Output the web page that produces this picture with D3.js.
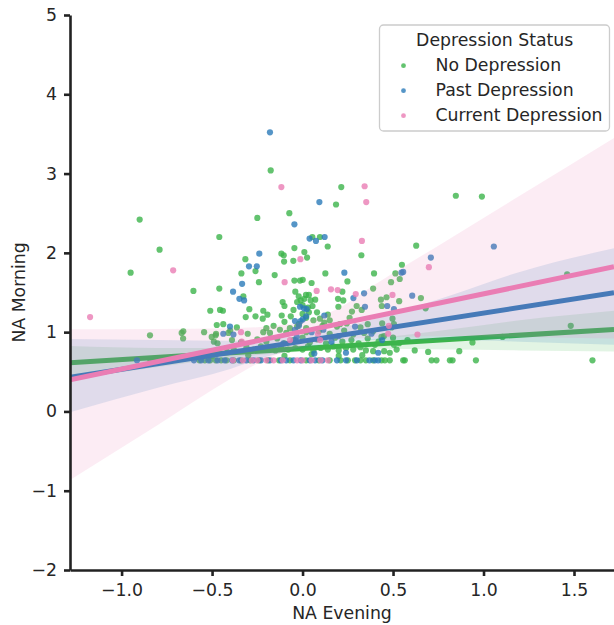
<!doctype html>
<html>
<head>
    <meta charset="utf-8">
    <title>NA Morning vs NA Evening</title>
    <script src="https://d3js.org/d3.v7.min.js"></script>
    <style type="text/css">
        html, body { margin: 0; padding: 0; background: #fff; }
        svg { display: block; font-family: "DejaVu Sans", sans-serif; }
        .axis text { font-size: 17.3px; fill: #262626; }
        .axis path, .axis line { stroke: #222222; stroke-width: 2.6; }
    </style>
</head>
<body>
<svg id="chart" width="614" height="625"></svg>
<script type="text/javascript">
    // groups and colours
    var groups = ["No Depression", "Past Depression", "Current Depression"];
    var palette = ["#3cb44b", "#2a7ab9", "#ea7db4"];

    var xTicks = [-1.0, -0.5, 0.0, 0.5, 1.0, 1.5];
    var yTicks = [-2, -1, 0, 1, 2, 3, 4, 5];

    // scatter [NA Evening, NA Morning]
    var noDep = [
        [-0.176,3.04],[0.214,2.83],[0.185,2.61],[-0.073,2.50],[-0.25,2.44],[-0.90,2.42],[-0.46,2.20],
        [0.054,2.20],[0.096,2.20],[0.139,2.08],[0.628,2.09],[-0.79,2.04],[-0.045,2.06],[0.01,2.01],
        [-0.117,1.99],[-0.104,1.97],[0.025,1.94],[-0.051,1.90],[-0.102,1.89],[0.325,1.97],[-0.316,1.92],
        [0.549,1.85],[-0.26,1.77],[-0.338,1.74],[-0.95,1.75],[-0.154,1.72],[0.126,1.74],[0.395,1.74],
        [0.513,1.74],[0.537,1.67],[0.489,1.63],[-0.241,1.63],[-0.014,1.65],[0.001,1.66],[-0.045,1.65],
        [0.05,1.62],[0.248,1.64],[-0.603,1.52],[-0.46,1.55],[-0.04,1.51],[0.019,1.47],[0.22,1.51],
        [0.39,1.55],[-0.327,1.45],[0.433,1.41],[0.464,1.44],[0.534,1.39],[0.654,1.43],[0.438,1.33],
        [0.68,1.30],[0.847,2.72],[0.991,2.71],[1.462,1.73],[1.482,1.08],[1.105,0.94],[0.939,0.87],
        [0.866,0.76],[0.694,0.75],
        [0.196,1.42],[0.225,1.40],[0.198,1.32],[0.273,1.26],[0.299,1.33],[0.327,1.28],
        [-0.021,1.45],[-0.01,1.40],[0.01,1.42],[0.035,1.47],[0.045,1.40],[0.07,1.41],[-0.03,1.38],
        [0.0,1.34],[0.03,1.31],[0.055,1.33],[-0.05,1.28],[0.035,1.25],[0.0,1.23],[-0.1,1.33],[-0.11,1.38],
        [-0.51,1.27],[-0.456,1.28],[-0.44,1.27],[-0.294,1.29],[-0.217,1.27],[-0.194,1.22],[-0.314,1.19],
        [-0.26,1.20],[-0.115,1.21],[-0.065,1.20],[0.096,1.17],[0.14,1.22],
        [0.02,1.18],[0.06,1.15],[-0.02,1.10],[0.08,1.25],[-0.07,1.05],[0.15,1.15],[0.26,1.18],
        [-0.16,1.08],[0.45,0.95],[0.40,0.84],[-0.20,1.05],[0.50,0.93],
        [-0.474,1.09],[-0.438,1.10],[-0.363,1.06],[-0.1,1.13],[-0.22,1.17],[0.11,1.08],[0.19,1.07],
        [0.207,1.10],[0.244,1.11],[0.32,1.06],[0.36,1.10],[-0.03,1.07],[0.02,1.05],[0.12,1.12],
        [0.505,1.10],[0.44,1.11],[0.492,1.06],[0.497,1.17],
        [-0.659,1.01],[-0.544,1.00],[-0.48,0.96],[-0.40,1.02],[-0.303,0.98],[-0.217,1.00],[-0.18,0.99],
        [-0.125,1.03],[-0.09,0.99],[0.02,1.00],[0.09,1.01],[0.15,0.98],[0.23,1.02],[0.28,0.97],
        [0.34,0.99],[0.39,1.01],[-0.668,0.99],[-0.843,0.96],[-0.502,0.94],[-0.478,0.98],[-0.41,0.99],
        [-0.66,0.92],[-0.49,0.88],[-0.47,0.86],[-0.39,0.90],[-0.34,0.87],[-0.25,0.91],[-0.20,0.88],
        [-0.14,0.92],[-0.10,0.86],[-0.05,0.90],[0.0,0.93],[0.04,0.87],[0.08,0.91],[0.13,0.86],
        [0.18,0.93],[0.22,0.88],[0.27,0.90],[0.31,0.86],[0.36,0.92],[0.42,0.88],[0.436,0.94],
        [0.505,0.84],[0.534,0.86],[0.58,0.90],
        [-0.42,0.80],[-0.38,0.78],[-0.31,0.81],[-0.27,0.78],[-0.23,0.82],[-0.18,0.79],[-0.15,0.77],
        [-0.12,0.81],[-0.08,0.78],[-0.04,0.80],[0.0,0.78],[0.03,0.82],[0.06,0.77],[0.10,0.80],
        [0.14,0.78],[0.17,0.82],[0.20,0.77],[0.24,0.80],[0.28,0.78],[0.32,0.81],[0.35,0.77],
        [0.39,0.76],[0.451,0.76],[0.482,0.74],[0.52,0.78],[0.62,0.77],
        [-0.50,0.70],[-0.30,0.71],[-0.10,0.70],[0.05,0.72],[0.20,0.70],[0.33,0.71],
        [-0.84,0.645],[-0.57,0.645],[-0.54,0.645],[-0.51,0.645],[-0.48,0.645],[-0.45,0.645],[-0.42,0.645],
        [-0.38,0.645],[-0.34,0.645],[-0.29,0.645],[-0.24,0.645],[-0.19,0.645],[-0.13,0.645],[-0.07,0.645],
        [0.02,0.645],[0.09,0.645],[0.15,0.645],[0.21,0.645],[0.25,0.645],[0.29,0.645],[0.32,0.645],
        [0.35,0.645],[0.39,0.645],[0.436,0.645],[0.455,0.645],[0.482,0.645],[0.556,0.645],[0.565,0.645],
        [0.713,0.645],[0.740,0.645],[0.814,0.645],[0.829,0.645],[0.958,0.645],[1.602,0.645]
    ];
    var pastDep = [
        [-0.18,3.52],[0.093,2.64],[-0.045,2.36],[0.039,2.18],[0.074,2.15],[0.122,2.20],[-0.239,1.99],
        [-0.296,1.83],[-0.253,1.83],[0.231,1.75],[-0.334,1.61],[-0.384,1.51],[0.34,1.49],[0.281,1.43],
        [-0.349,1.42],[-0.323,1.40],[0.709,1.94],[0.547,1.75],[0.556,1.76],[1.057,2.08],[0.606,1.46],
        [0.468,1.33],[0.505,1.29],[0.345,1.32],[0.12,1.21],[-0.014,1.32],[0.008,1.30],[0.023,1.29],
        [-0.042,1.14],[-0.01,1.14],[0.001,1.16],[-0.042,1.03],[-0.032,0.94],[-0.106,0.86],[0.115,1.03],
        [0.29,1.07],[-0.401,1.07],[-0.438,0.98],[-0.382,0.97],[0.381,0.98],[0.418,0.74],[0.24,0.74],
        [0.065,0.73],[-0.04,0.90],[0.16,0.88],
        [0.02,1.20],[-0.02,1.08],[0.05,1.00],[0.20,0.95],[0.44,0.90],
        [-0.915,0.645],[-0.60,0.645],[-0.56,0.645],[-0.52,0.645],[-0.47,0.645],[-0.43,0.645],[-0.39,0.645],
        [-0.35,0.645],[-0.31,0.645],[-0.27,0.645],[-0.23,0.645],[-0.18,0.645],[-0.12,0.645],[-0.09,0.645],
        [-0.05,0.645],[-0.01,0.645],[0.04,0.645],[0.07,0.645],[0.11,0.645],[0.19,0.645],[0.24,0.645],
        [0.30,0.645],[0.37,0.645],[0.40,0.645],[0.418,0.645]
    ];
    var currDep = [
        [-0.117,2.83],[0.343,2.84],[0.352,2.64],[0.328,2.15],[-0.012,1.92],[-0.715,1.78],[0.698,1.82],
        [-0.099,1.63],[0.078,1.52],[0.157,1.54],[0.194,1.53],[0.294,1.48],[0.497,1.47],[-1.174,1.19],
        [0.477,1.08],[0.473,0.98],[0.635,0.97],[-0.34,1.00],[0.085,0.98],[-0.069,0.90],[0.097,0.90],
        [-0.336,0.88],
        [-0.385,0.645],[-0.33,0.645],[-0.28,0.645],[-0.25,0.645],[-0.20,0.645],[-0.16,0.645],
        [-0.11,0.645],[-0.03,0.645],[0.0,0.645],[0.05,0.645],[0.10,0.645],[0.14,0.645]
    ];

    // fitted lines
    var fitIntercept = [0.794, 0.886, 1.009];
    var fitSlope = [0.140, 0.355, 0.474];

    // confidence bands, sampled along NA Evening
    var bandX = [-1.285, -0.8, -0.4, -0.2, 0, 0.2, 0.4, 0.8, 1.2, 1.721];
    var loNoDep   = [0.40, 0.56, 0.68, 0.72, 0.755, 0.78, 0.79, 0.78, 0.77, 0.755];
    var hiNoDep   = [0.825, 0.80, 0.80, 0.81, 0.83, 0.87, 0.92, 1.03, 1.15, 1.27];
    var loPastDep = [-0.01, 0.30, 0.535, 0.69, 0.80, 0.87, 0.90, 0.90, 0.88, 0.84];
    var hiPastDep = [0.913, 0.90, 0.89, 0.91, 0.96, 1.05, 1.17, 1.45, 1.76, 2.057];
    var loCurrDep = [-0.865, -0.17, 0.41, 0.66, 0.82, 0.90, 0.93, 0.95, 0.94, 0.92];
    var hiCurrDep = [1.035, 1.04, 1.05, 1.07, 1.13, 1.30, 1.60, 2.16, 2.72, 3.45];

    var points = [noDep, pastDep, currDep];
    var bandsLo = [loNoDep, loPastDep, loCurrDep];
    var bandsHi = [hiNoDep, hiPastDep, hiCurrDep];

    var svg = d3.select("#chart");
    var plotL = 70, plotR = 614, plotT = 15, plotB = 570;

    var x = d3.scaleLinear().domain([-1.285, 1.721]).range([plotL, plotR]);
    var y = d3.scaleLinear().domain([-2, 5]).range([plotB, plotT]);

    svg.append("clipPath").attr("id", "plotclip")
        .append("rect").attr("x", plotL).attr("y", plotT)
        .attr("width", plotR - plotL).attr("height", plotB - plotT);

    var plot = svg.append("g").attr("clip-path", "url(#plotclip)");

    var area = d3.area()
        .x(function(d) { return x(d[0]); })
        .y0(function(d) { return y(d[1]); })
        .y1(function(d) { return y(d[2]); })
        .curve(d3.curveMonotoneX);

    groups.forEach(function(g, i) {
        plot.append("g").selectAll("circle")
            .data(points[i])
            .enter().append("circle")
            .attr("cx", function(d) { return x(d[0]); })
            .attr("cy", function(d) { return y(d[1]); })
            .attr("r", 3.1)
            .attr("fill", palette[i])
            .attr("fill-opacity", 0.8);

        var band = bandX.map(function(v, k) { return [v, bandsLo[i][k], bandsHi[i][k]]; });
        plot.append("path")
            .attr("d", area(band))
            .attr("fill", palette[i])
            .attr("fill-opacity", 0.15);

        var xd = x.domain();
        plot.append("line")
            .attr("x1", x(xd[0])).attr("y1", y(fitIntercept[i] + fitSlope[i] * xd[0]))
            .attr("x2", x(xd[1])).attr("y2", y(fitIntercept[i] + fitSlope[i] * xd[1]))
            .attr("stroke", palette[i])
            .attr("stroke-width", 5);
    });

    // axes
    svg.append("g")
        .attr("class", "axis")
        .attr("transform", "translate(0," + plotB + ")")
        .call(d3.axisBottom(x).tickValues(xTicks).tickFormat(d3.format(".1f"))
            .tickSize(6).tickSizeOuter(0).tickPadding(8));

    svg.append("g")
        .attr("class", "axis")
        .attr("transform", "translate(" + plotL + ",0)")
        .call(d3.axisLeft(y).tickValues(yTicks).tickFormat(d3.format("d"))
            .tickSize(6).tickSizeOuter(0).tickPadding(7));

    svg.selectAll(".axis text").attr("font-family", "DejaVu Sans");

    svg.append("text")
        .attr("x", (plotL + plotR) / 2).attr("y", 619)
        .attr("text-anchor", "middle")
        .style("font-size", "17.3px").style("fill", "#262626")
        .text("NA Evening");

    svg.append("text")
        .attr("transform", "translate(25," + ((plotT + plotB) / 2) + ") rotate(-90)")
        .attr("text-anchor", "middle")
        .style("font-size", "17.3px").style("fill", "#262626")
        .text("NA Morning");

    // legend
    var legend = svg.append("g");
    legend.append("rect")
        .attr("x", 379.5).attr("y", 25).attr("width", 230).attr("height", 106)
        .attr("rx", 4).attr("fill", "#fff").attr("fill-opacity", 0.8)
        .attr("stroke", "#cccccc").attr("stroke-width", 1.3);
    legend.append("text")
        .attr("x", 494.7).attr("y", 46).attr("text-anchor", "middle")
        .style("font-size", "17.3px").style("fill", "#262626")
        .text("Depression Status");
    groups.forEach(function(g, i) {
        legend.append("circle")
            .attr("cx", 403.5).attr("cy", 65.7 + i * 25)
            .attr("r", 2.4).attr("fill", palette[i]).attr("fill-opacity", 0.8);
        legend.append("text")
            .attr("x", 435.5).attr("y", 71 + i * 25)
            .style("font-size", "17.3px").style("fill", "#262626")
            .text(g);
    });
</script>
</body>
</html>
